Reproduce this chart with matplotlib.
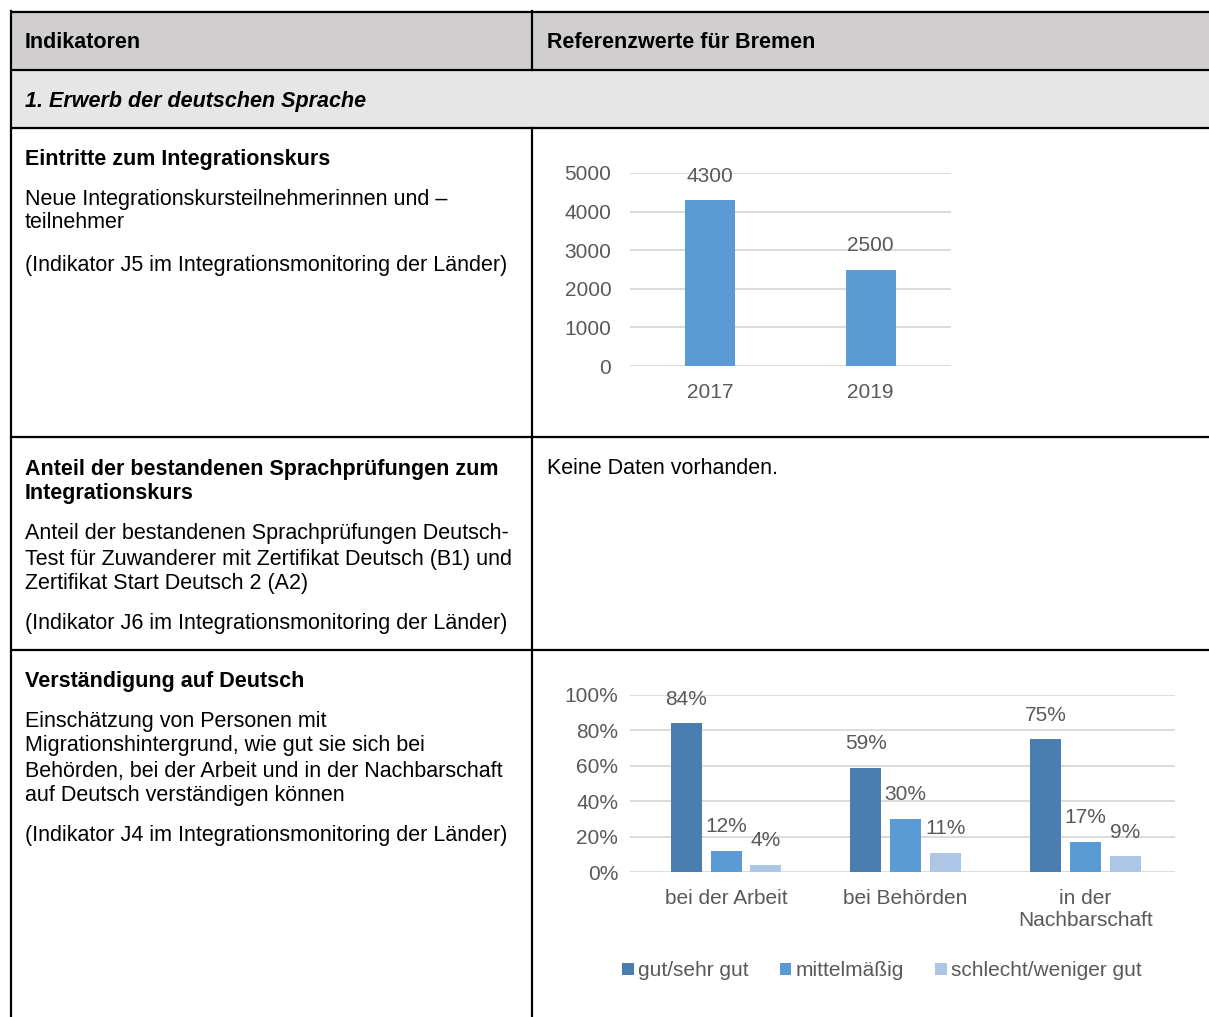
import numpy as np
import matplotlib.pyplot as plt
from matplotlib.patches import Rectangle

plt.rcParams['font.family'] = ['Liberation Sans', 'DejaVu Sans']

# Daten
jahre = ["2017", "2019"]
eintritte = [4300, 2500]

orte = ["bei der Arbeit", "bei Behörden", "in der\nNachbarschaft"]
stufen = ["gut/sehr gut", "mittelmäßig", "schlecht/weniger gut"]
anteile = [[84, 59, 75], [12, 30, 17], [4, 11, 9]]

W, H = 1209, 1017
fig = plt.figure(figsize=(W / 100, H / 100), dpi=100)

# Hintergrund-Achse in Pixelkoordinaten fuer die Tabelle
bg = fig.add_axes([0, 0, 1, 1])
bg.set_xlim(0, W)
bg.set_ylim(H, 0)
bg.axis('off')

bg.add_patch(Rectangle((11, 11), W, 59, color='#d0cece', zorder=0))
bg.add_patch(Rectangle((11, 70), W, 58, color='#e7e6e6', zorder=0))

lw = 1.6
for y in [12, 70, 128, 437, 650]:
    bg.plot([10, W], [y, y], color='black', lw=lw, solid_capstyle='butt')
bg.plot([10.5, 10.5], [11, H], color='black', lw=lw)
bg.plot([532, 532], [11, 70], color='black', lw=lw)
bg.plot([532, 532], [128, H], color='black', lw=lw)

fs = 15.5
def txt(x, y, s, **kw):
    bg.text(x, y + 2, s, fontsize=fs, va='center', ha='left', color='black', **kw)

txt(25, 41, "Indikatoren", weight='bold')
txt(547, 41, "Referenzwerte für Bremen", weight='bold')
txt(25, 99, "1. Erwerb der deutschen Sprache", weight='bold', style='italic')

txt(25, 157, "Eintritte zum Integrationskurs", weight='bold')
txt(25, 198, "Neue Integrationskursteilnehmerinnen und –")
txt(25, 221, "teilnehmer")
txt(25, 263, "(Indikator J5 im Integrationsmonitoring der Länder)")

txt(25, 467, "Anteil der bestandenen Sprachprüfungen zum", weight='bold')
txt(25, 491, "Integrationskurs", weight='bold')
txt(25, 532, "Anteil der bestandenen Sprachprüfungen Deutsch-")
txt(25, 557, "Test für Zuwanderer mit Zertifikat Deutsch (B1) und")
txt(25, 581, "Zertifikat Start Deutsch 2 (A2)")
txt(25, 622, "(Indikator J6 im Integrationsmonitoring der Länder)")
txt(547, 467, "Keine Daten vorhanden.")

txt(25, 679, "Verständigung auf Deutsch", weight='bold')
txt(25, 720, "Einschätzung von Personen mit")
txt(25, 744, "Migrationshintergrund, wie gut sie sich bei")
txt(25, 769, "Behörden, bei der Arbeit und in der Nachbarschaft")
txt(25, 794, "auf Deutsch verständigen können")
txt(25, 834, "(Indikator J4 im Integrationsmonitoring der Länder)")

grau = '#595959'
gitter = '#d9d9d9'
cfs = 15

def px_axes(x0, y0, x1, y1):
    # y0 oben, y1 unten (Pixel)
    return fig.add_axes([x0 / W, 1 - y1 / H, (x1 - x0) / W, (y1 - y0) / H])

def style(ax):
    for s in ax.spines.values():
        s.set_visible(False)
    ax.tick_params(length=0, colors=grau, labelsize=cfs)
    ax.grid(axis='y', color=gitter, lw=1.3)
    ax.set_axisbelow(True)

# Diagramm 1
ax1 = px_axes(630, 173, 951, 366)
x = np.arange(len(jahre))
ax1.bar(x, eintritte, width=0.31, color='#5b9bd5')
ax1.set_ylim(0, 5000)
ax1.set_yticks(range(0, 5001, 1000))
ax1.set_xlim(-0.5, 1.5)
ax1.set_xticks(x, jahre)
style(ax1)
ax1.tick_params(axis='y', pad=13.5)
ax1.tick_params(axis='x', pad=12)
for xi, v in zip(x, eintritte):
    ax1.annotate(str(v), (xi, v), xytext=(0, 24), textcoords='offset pixels',
                 ha='center', va='center', fontsize=cfs, color=grau)

# Diagramm 2
ax2 = px_axes(630, 695, 1175, 872)
farben = ['#4a7eb0', '#5b9bd5', '#adc6e6']
x = np.arange(len(orte))
for i, (stufe, werte, f) in enumerate(zip(stufen, anteile, farben)):
    pos = x + (i - 1) * 0.222
    ax2.bar(pos, werte, width=0.172, color=f, label=stufe)
    for p, v in zip(pos, werte):
        ax2.annotate(f"{v}%", (p, v), xytext=(0, 24), textcoords='offset pixels',
                     ha='center', va='center', fontsize=cfs, color=grau)
ax2.set_ylim(0, 100)
ax2.set_yticks(range(0, 101, 20), [f"{t}%" for t in range(0, 101, 20)])
ax2.set_xlim(-0.535, 2.5)
ax2.set_xticks(x, orte)
style(ax2)
ax2.tick_params(axis='y', pad=8.5)
ax2.tick_params(axis='x', pad=12)
ax2.legend(loc='center', bbox_to_anchor=(882 / W, 1 - 971 / H), bbox_transform=fig.transFigure,
           ncol=3, frameon=False, fontsize=cfs, handlelength=0.55, handleheight=0.55,
           handletextpad=0.2, columnspacing=1.5, labelcolor=grau)

fig.savefig("out.png", dpi=100)
